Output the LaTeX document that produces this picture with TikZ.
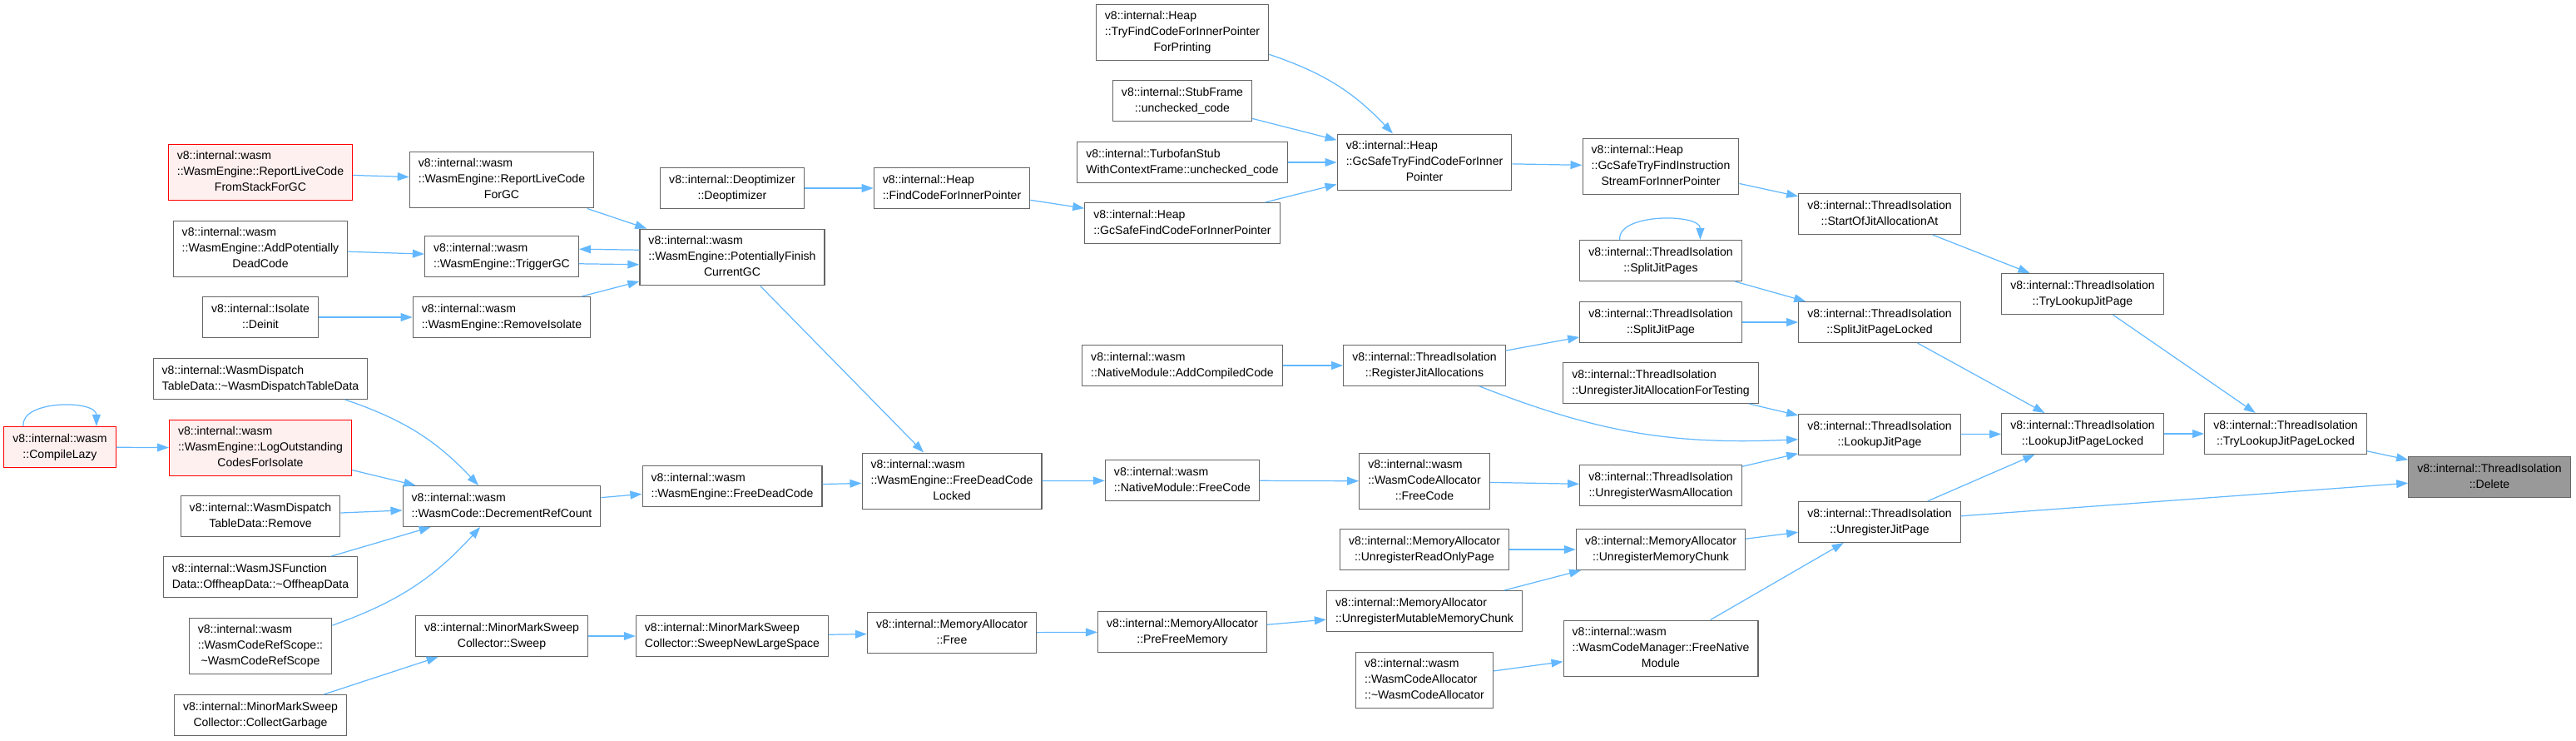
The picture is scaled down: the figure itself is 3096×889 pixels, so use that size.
\documentclass[tikz,border=0pt]{standalone}
\usepackage{fontspec}
\setmainfont{Liberation Sans}
\usepackage{tikz}
\usetikzlibrary{arrows.meta}
\usepackage{xcolor}

\definecolor{grey40}{HTML}{666666}
\definecolor{grey60}{HTML}{999999}
\definecolor{callblue}{HTML}{63B8FF}
\definecolor{redfill}{HTML}{FFF0F0}

% testo dei nodi: righe a sinistra, ultima centrata
\newcommand{\fnb}[2]{\begin{tabular}{@{}l@{}}#1\\\multicolumn{1}{@{}c@{}}{#2}\end{tabular}}
\newcommand{\fnc}[3]{\begin{tabular}{@{}l@{}}#1\\#2\\\multicolumn{1}{@{}c@{}}{#3}\end{tabular}}

\tikzset{
  fn/.style={draw=grey40, fill=white, line width=0.65pt, inner xsep=6pt, inner ysep=3.1pt,
    font=\fontsize{8}{10.8}\selectfont},
  fnred/.style={fn, draw=red, fill=redfill},
  fnroot/.style={fn, fill=grey60},
  callarrow/.style={draw=callblue, line width=0.7pt, -{Triangle[length=8pt,width=5.6pt]}}
}

\begin{document}
\begin{tikzpicture}[x=0.02cm, y=-0.02cm]
\useasboundingbox (0,0) rectangle (3096,889);
% Colonna 1
\node[fnred] (lazy) at (72,537) {\fnb{v8::internal::wasm}{::CompileLazy}};
% Colonna 2
\node[fnred] (rlcs) at (313,207) {\fnc{v8::internal::wasm}{::WasmEngine::ReportLiveCode}{FromStackForGC}};
\node[fn] (apdc) at (313,299) {\fnc{v8::internal::wasm}{::WasmEngine::AddPotentially}{DeadCode}};
\node[fn] (deinit) at (313,381) {\fnb{v8::internal::Isolate}{::Deinit}};
\node[fn] (wdtd) at (313,455) {\fnb{v8::internal::WasmDispatch}{TableData::\textasciitilde WasmDispatchTableData}};
\node[fnred] (logout) at (313,538) {\fnc{v8::internal::wasm}{::WasmEngine::LogOutstanding}{CodesForIsolate}};
\node[fn] (wdtr) at (313,620) {\fnb{v8::internal::WasmDispatch}{TableData::Remove}};
\node[fn] (wjsf) at (313,693) {\fnb{v8::internal::WasmJSFunction}{Data::OffheapData::\textasciitilde OffheapData}};
\node[fn] (wcrs) at (313,776) {\fnc{v8::internal::wasm}{::WasmCodeRefScope::}{\textasciitilde WasmCodeRefScope}};
\node[fn] (mmcg) at (313,859) {\fnb{v8::internal::MinorMarkSweep}{Collector::CollectGarbage}};
% Colonna 3
\node[fn] (rlcg) at (603,216) {\fnc{v8::internal::wasm}{::WasmEngine::ReportLiveCode}{ForGC}};
\node[fn] (trig) at (603,308) {\fnb{v8::internal::wasm}{::WasmEngine::TriggerGC}};
\node[fn] (remiso) at (603,381) {\fnb{v8::internal::wasm}{::WasmEngine::RemoveIsolate}};
\node[fn] (decref) at (603,608) {\fnb{v8::internal::wasm}{::WasmCode::DecrementRefCount}};
\node[fn] (sweep) at (603,764) {\fnb{v8::internal::MinorMarkSweep}{Collector::Sweep}};
% Colonna 4
\node[fn] (deopt) at (880,226) {\fnb{v8::internal::Deoptimizer}{::Deoptimizer}};
\node[fn] (pfgc) at (880,309) {\fnc{v8::internal::wasm}{::WasmEngine::PotentiallyFinish}{CurrentGC}};
\node[fn] (fdc) at (880,584) {\fnb{v8::internal::wasm}{::WasmEngine::FreeDeadCode}};
\node[fn] (snls) at (880,764) {\fnb{v8::internal::MinorMarkSweep}{Collector::SweepNewLargeSpace}};
% Colonna 5
\node[fn] (fcip) at (1144,226) {\fnb{v8::internal::Heap}{::FindCodeForInnerPointer}};
\node[fn] (fdcl) at (1144,578) {\fnc{v8::internal::wasm}{::WasmEngine::FreeDeadCode}{Locked}};
\node[fn] (mafree) at (1144,760) {\fnb{v8::internal::MemoryAllocator}{::Free}};
% Colonna 6
\node[fn] (tfpr) at (1421,39) {\fnc{v8::internal::Heap}{::TryFindCodeForInnerPointer}{ForPrinting}};
\node[fn] (stub) at (1421,121) {\fnb{v8::internal::StubFrame}{::unchecked\_code}};
\node[fn] (turbo) at (1421,195) {\fnb{v8::internal::TurbofanStub}{WithContextFrame::unchecked\_code}};
\node[fn] (gsfc) at (1421,268) {\fnb{v8::internal::Heap}{::GcSafeFindCodeForInnerPointer}};
\node[fn] (addcc) at (1421,439) {\fnb{v8::internal::wasm}{::NativeModule::AddCompiledCode}};
\node[fn] (nmfc) at (1421,577) {\fnb{v8::internal::wasm}{::NativeModule::FreeCode}};
\node[fn] (pfm) at (1421,759) {\fnb{v8::internal::MemoryAllocator}{::PreFreeMemory}};
% Colonna 7
\node[fn] (gstf) at (1712,195) {\fnc{v8::internal::Heap}{::GcSafeTryFindCodeForInner}{Pointer}};
\node[fn] (rja) at (1712,439) {\fnb{v8::internal::ThreadIsolation}{::RegisterJitAllocations}};
\node[fn] (wcafc) at (1712,578) {\fnc{v8::internal::wasm}{::WasmCodeAllocator}{::FreeCode}};
\node[fn] (urop) at (1712,660) {\fnb{v8::internal::MemoryAllocator}{::UnregisterReadOnlyPage}};
\node[fn] (umm) at (1712,734) {\fnb{v8::internal::MemoryAllocator}{::UnregisterMutableMemoryChunk}};
\node[fn] (wcad) at (1712,817) {\fnc{v8::internal::wasm}{::WasmCodeAllocator}{::\textasciitilde WasmCodeAllocator}};
% Colonna 8
\node[fn] (gsis) at (1996,200) {\fnc{v8::internal::Heap}{::GcSafeTryFindInstruction}{StreamForInnerPointer}};
\node[fn] (sjps) at (1996,313) {\fnb{v8::internal::ThreadIsolation}{::SplitJitPages}};
\node[fn] (sjp) at (1996,387) {\fnb{v8::internal::ThreadIsolation}{::SplitJitPage}};
\node[fn] (ujaft) at (1996,460) {\fnb{v8::internal::ThreadIsolation}{::UnregisterJitAllocationForTesting}};
\node[fn] (uwa) at (1996,583) {\fnb{v8::internal::ThreadIsolation}{::UnregisterWasmAllocation}};
\node[fn] (umc) at (1996,660) {\fnb{v8::internal::MemoryAllocator}{::UnregisterMemoryChunk}};
\node[fn] (fnm) at (1996,779) {\fnc{v8::internal::wasm}{::WasmCodeManager::FreeNative}{Module}};
% Colonna 9
\node[fn] (sojaa) at (2259,257) {\fnb{v8::internal::ThreadIsolation}{::StartOfJitAllocationAt}};
\node[fn] (sjpl) at (2259,387) {\fnb{v8::internal::ThreadIsolation}{::SplitJitPageLocked}};
\node[fn] (ljp) at (2259,522) {\fnb{v8::internal::ThreadIsolation}{::LookupJitPage}};
\node[fn] (ujp) at (2259,627) {\fnb{v8::internal::ThreadIsolation}{::UnregisterJitPage}};
% Colonne 10-12
\node[fn] (tljp) at (2503,353) {\fnb{v8::internal::ThreadIsolation}{::TryLookupJitPage}};
\node[fn] (ljpl) at (2503,521) {\fnb{v8::internal::ThreadIsolation}{::LookupJitPageLocked}};
\node[fn] (tljpl) at (2747,521) {\fnb{v8::internal::ThreadIsolation}{::TryLookupJitPageLocked}};
\node[fnroot] (del) at (2992,573) {\fnb{v8::internal::ThreadIsolation}{::Delete}};
% Archi colonne 1-3
\draw[callarrow] ([xshift=-25pt]lazy.north) .. controls +(-4,-32) and +(0,-32) .. ([xshift=25pt]lazy.north);
\draw[callarrow] (lazy) -- (logout);
\draw[callarrow] (rlcs) -- (rlcg);
\draw[callarrow] (apdc) -- (trig);
\draw[callarrow] (deinit) -- (remiso);
\draw[callarrow] (wdtd) to[bend left=14] (decref);
\draw[callarrow] (logout) -- (decref);
\draw[callarrow] (wdtr) -- (decref);
\draw[callarrow] (wjsf) -- (decref);
\draw[callarrow] (wcrs) to[bend right=14] (decref);
\draw[callarrow] (mmcg) -- (sweep);
% Archi colonne 3-5
\draw[callarrow] (rlcg) -- (pfgc);
\draw[callarrow] ([yshift=5pt]pfgc.west) -- ([yshift=5pt]trig.east);
\draw[callarrow] ([yshift=-5pt]trig.east) -- ([yshift=-5pt]pfgc.west);
\draw[callarrow] (remiso) -- (pfgc);
\draw[callarrow] (decref) -- (fdc);
\draw[callarrow] (sweep) -- (snls);
\draw[callarrow] (deopt) -- (fcip);
\draw[callarrow] (pfgc) -- (fdcl);
\draw[callarrow] (fdc) -- (fdcl);
\draw[callarrow] (snls) -- (mafree);
% Archi colonne 5-7
\draw[callarrow] (fcip) -- (gsfc);
\draw[callarrow] (fdcl) -- (nmfc);
\draw[callarrow] (mafree) -- (pfm);
\draw[callarrow] (tfpr) to[bend left=14] (gstf);
\draw[callarrow] (stub) -- (gstf);
\draw[callarrow] (turbo) -- (gstf);
\draw[callarrow] (gsfc) -- (gstf);
\draw[callarrow] (addcc) -- (rja);
\draw[callarrow] (nmfc) -- (wcafc);
\draw[callarrow] (pfm) -- (umm);
% Archi colonne 7-9
\draw[callarrow] (gstf) -- (gsis);
\draw[callarrow] (rja) -- (sjp);
\draw[callarrow] (rja) to[bend right=12] (ljp);
\draw[callarrow] (wcafc) -- (uwa);
\draw[callarrow] (urop) -- (umc);
\draw[callarrow] (umm) -- (umc);
\draw[callarrow] (wcad) -- (fnm);
\draw[callarrow] (gsis) -- (sojaa);
\draw[callarrow] ([xshift=-28pt]sjps.north) .. controls +(-4,-32) and +(0,-32) .. ([xshift=27pt]sjps.north);
\draw[callarrow] (sjps) -- (sjpl);
\draw[callarrow] (sjp) -- (sjpl);
\draw[callarrow] (ujaft) -- (ljp);
\draw[callarrow] (uwa) -- (ljp);
\draw[callarrow] (umc) -- (ujp);
\draw[callarrow] (fnm) -- (ujp);
% Archi verso Delete
\draw[callarrow] (sojaa) -- (tljp);
\draw[callarrow] (sjpl) -- (ljpl);
\draw[callarrow] (ljp) -- (ljpl);
\draw[callarrow] (ujp) -- (ljpl);
\draw[callarrow] (ujp) -- (del);
\draw[callarrow] (tljp) -- (tljpl);
\draw[callarrow] (ljpl) -- (tljpl);
\draw[callarrow] (tljpl) -- (del);
\end{tikzpicture}
\end{document}
